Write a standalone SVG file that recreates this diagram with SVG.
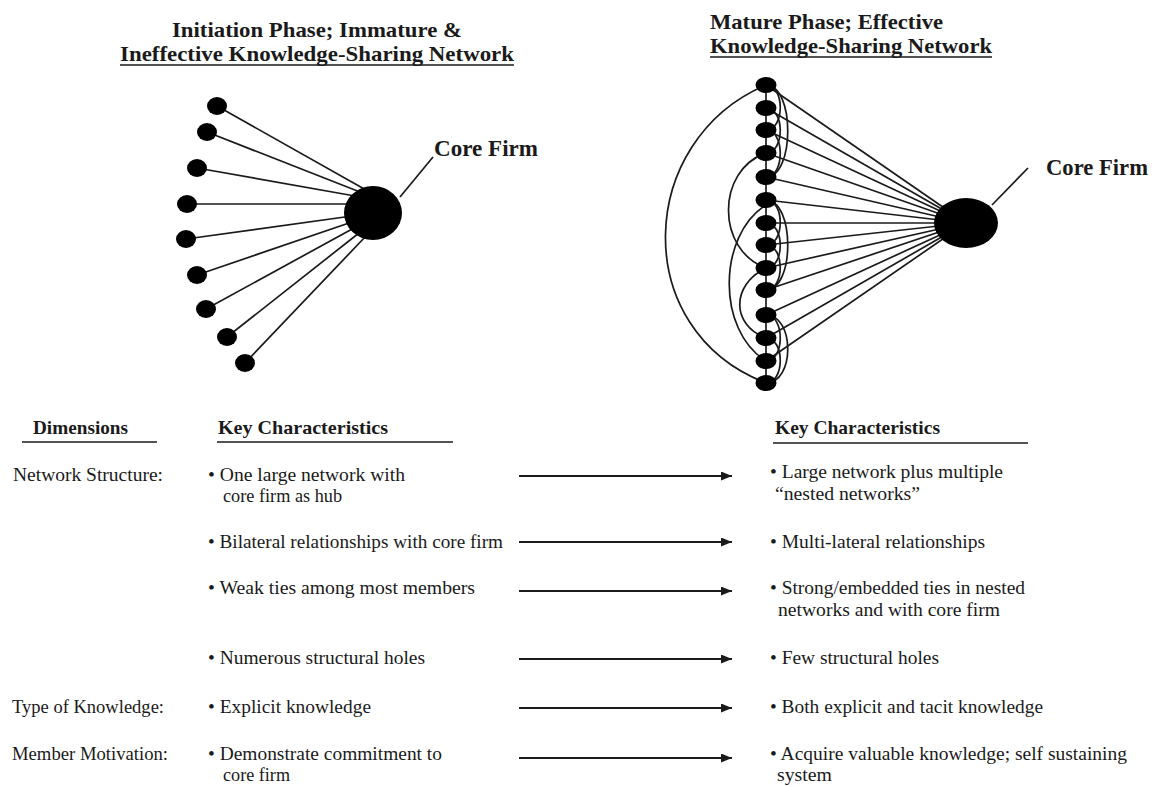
<svg xmlns="http://www.w3.org/2000/svg" width="1152" height="787" viewBox="0 0 1152 787">
<style>
  text { font-family: "Liberation Serif", "Times New Roman", serif; fill: #1a1a1a; }
  .title { font-size: 21px; font-weight: bold; }
  .core { font-size: 23px; font-weight: bold; }
  .hdr { font-size: 19.5px; font-weight: bold; }
  .body { font-size: 19px; }
  .edge { stroke: #1a1a1a; stroke-width: 1.7; fill: none; }
  .rule { stroke: #1a1a1a; stroke-width: 1.7; }
  .node { fill: #000; }
  .arrow { stroke: #1a1a1a; stroke-width: 2; marker-end: url(#ah); }
</style>
<defs>
  <marker id="ah" viewBox="0 0 11 9" refX="11" refY="4.5" markerWidth="11" markerHeight="9" markerUnits="userSpaceOnUse" orient="auto">
    <path d="M0,0 L11,4.5 L0,9 Z" fill="#1a1a1a"/>
  </marker>
</defs>
<rect width="1152" height="787" fill="#ffffff"/>

<g id="titles">
  <text class="title" x="172" y="37" textLength="290" lengthAdjust="spacingAndGlyphs">Initiation Phase; Immature &amp;</text>
  <text class="title" x="120" y="61" textLength="394" lengthAdjust="spacingAndGlyphs">Ineffective Knowledge-Sharing Network</text>
  <line class="rule" x1="120" y1="65" x2="514" y2="65"/>
  <text class="title" x="710" y="29" textLength="233" lengthAdjust="spacingAndGlyphs">Mature Phase; Effective</text>
  <text class="title" x="710" y="53" textLength="282" lengthAdjust="spacingAndGlyphs">Knowledge-Sharing Network</text>
  <line class="rule" x1="710" y1="57" x2="992" y2="57"/>
</g>

<g id="connectors">
  <!-- left network spokes -->
  <line class="edge" x1="217" y1="106" x2="366" y2="190"/>
  <line class="edge" x1="207" y1="132" x2="360" y2="192"/>
  <line class="edge" x1="197" y1="168" x2="355" y2="196"/>
  <line class="edge" x1="187" y1="204" x2="352" y2="204"/>
  <line class="edge" x1="186" y1="239" x2="352" y2="216"/>
  <line class="edge" x1="197" y1="275" x2="352" y2="222"/>
  <line class="edge" x1="206" y1="309" x2="354" y2="228"/>
  <line class="edge" x1="227" y1="337" x2="359" y2="233"/>
  <line class="edge" x1="245" y1="363" x2="366" y2="236"/>
  <line class="edge" x1="400" y1="197" x2="433" y2="157"/>

  <!-- right network spokes -->
  <line class="edge" x1="766" y1="85" x2="966" y2="223"/>
  <line class="edge" x1="766" y1="108" x2="966" y2="223"/>
  <line class="edge" x1="766" y1="130" x2="966" y2="223"/>
  <line class="edge" x1="766" y1="153" x2="966" y2="223"/>
  <line class="edge" x1="766" y1="177" x2="966" y2="223"/>
  <line class="edge" x1="766" y1="200" x2="966" y2="223"/>
  <line class="edge" x1="766" y1="223" x2="966" y2="223"/>
  <line class="edge" x1="766" y1="245" x2="966" y2="223"/>
  <line class="edge" x1="766" y1="268" x2="966" y2="223"/>
  <line class="edge" x1="766" y1="290" x2="966" y2="223"/>
  <line class="edge" x1="766" y1="315" x2="966" y2="223"/>
  <line class="edge" x1="766" y1="338" x2="966" y2="223"/>
  <line class="edge" x1="766" y1="361" x2="966" y2="223"/>
  <line class="edge" x1="992" y1="205" x2="1028" y2="168"/>

  <!-- column chain -->
  <line class="edge" x1="766" y1="85" x2="766" y2="383"/>

  <!-- right-side loops -->
  <path class="edge" d="M766,85 C785,85 785,130 766,130"/>
  <path class="edge" d="M766,108 C785,108 785,153 766,153"/>
  <path class="edge" d="M766,130 C785,130 785,177 766,177"/>
  <path class="edge" d="M766,85 C795,85 795,177 766,177"/>
  <path class="edge" d="M766,200 C785,200 785,245 766,245"/>
  <path class="edge" d="M766,223 C785,223 785,268 766,268"/>
  <path class="edge" d="M766,245 C785,245 785,290 766,290"/>
  <path class="edge" d="M766,200 C795,200 795,290 766,290"/>
  <path class="edge" d="M766,315 C785,315 785,361 766,361"/>
  <path class="edge" d="M766,338 C785,338 785,383 766,383"/>
  <path class="edge" d="M766,315 C795,315 795,383 766,383"/>

  <!-- left-side arcs -->
  <path class="edge" d="M766,85 C636,140 628,330 766,383"/>
  <path class="edge" d="M766,153 C716,170 716,250 766,268"/>
  <path class="edge" d="M766,205 C718,235 716,330 766,361"/>
  <path class="edge" d="M766,268 C731,285 731,325 766,338"/>

  <!-- transition arrows -->
  <line class="arrow" x1="519" y1="476" x2="732" y2="476"/>
  <line class="arrow" x1="519" y1="542" x2="732" y2="542"/>
  <line class="arrow" x1="519" y1="591" x2="732" y2="591"/>
  <line class="arrow" x1="519" y1="659" x2="732" y2="659"/>
  <line class="arrow" x1="519" y1="708" x2="732" y2="708"/>
  <line class="arrow" x1="519" y1="758" x2="732" y2="758"/>
</g>

<g id="left-network">
  <ellipse class="node" cx="217" cy="106" rx="10" ry="9"/>
  <ellipse class="node" cx="207" cy="132" rx="10" ry="9"/>
  <ellipse class="node" cx="197" cy="168" rx="10" ry="9"/>
  <ellipse class="node" cx="187" cy="204" rx="10" ry="9"/>
  <ellipse class="node" cx="186" cy="239" rx="10" ry="9"/>
  <ellipse class="node" cx="197" cy="275" rx="10" ry="9"/>
  <ellipse class="node" cx="206" cy="309" rx="10" ry="9"/>
  <ellipse class="node" cx="227" cy="337" rx="10" ry="9"/>
  <ellipse class="node" cx="245" cy="363" rx="10" ry="9"/>
</g>
<g id="left-core">
  <ellipse class="node" cx="373" cy="213" rx="29" ry="27"/>
  <text class="core" x="434" y="156" textLength="104" lengthAdjust="spacingAndGlyphs">Core Firm</text>
</g>

<g id="right-network">
  <ellipse class="node" cx="766" cy="85" rx="10.5" ry="8"/>
  <ellipse class="node" cx="766" cy="108" rx="10.5" ry="8"/>
  <ellipse class="node" cx="766" cy="130" rx="10.5" ry="8"/>
  <ellipse class="node" cx="766" cy="153" rx="10.5" ry="8"/>
  <ellipse class="node" cx="766" cy="177" rx="10.5" ry="8"/>
  <ellipse class="node" cx="766" cy="200" rx="10.5" ry="8"/>
  <ellipse class="node" cx="766" cy="223" rx="10.5" ry="8"/>
  <ellipse class="node" cx="766" cy="245" rx="10.5" ry="8"/>
  <ellipse class="node" cx="766" cy="268" rx="10.5" ry="8"/>
  <ellipse class="node" cx="766" cy="290" rx="10.5" ry="8"/>
  <ellipse class="node" cx="766" cy="315" rx="10.5" ry="8"/>
  <ellipse class="node" cx="766" cy="338" rx="10.5" ry="8"/>
  <ellipse class="node" cx="766" cy="361" rx="10.5" ry="8"/>
  <ellipse class="node" cx="766" cy="383" rx="10.5" ry="8"/>
</g>
<g id="right-core">
  <ellipse class="node" cx="966" cy="223" rx="32" ry="25"/>
  <text class="core" x="1046" y="175" textLength="102" lengthAdjust="spacingAndGlyphs">Core Firm</text>
</g>

<g id="table-headers">
  <text class="hdr" x="33" y="434" textLength="95" lengthAdjust="spacingAndGlyphs">Dimensions</text>
  <line class="rule" x1="22" y1="442" x2="157" y2="442"/>
  <text class="hdr" x="218" y="434" textLength="170" lengthAdjust="spacingAndGlyphs">Key Characteristics</text>
  <line class="rule" x1="217" y1="442" x2="453" y2="442"/>
  <text class="hdr" x="775" y="434" textLength="165" lengthAdjust="spacingAndGlyphs">Key Characteristics</text>
  <line class="rule" x1="773" y1="443" x2="1028" y2="443"/>
</g>

<g id="dimensions">
  <text class="body" x="13" y="481" textLength="150" lengthAdjust="spacingAndGlyphs">Network Structure:</text>
  <text class="body" x="12" y="713" textLength="152" lengthAdjust="spacingAndGlyphs">Type of Knowledge:</text>
  <text class="body" x="12" y="760" textLength="156" lengthAdjust="spacingAndGlyphs">Member Motivation:</text>
</g>

<g id="initiation-characteristics">
  <text class="body" x="208" y="481" textLength="197" lengthAdjust="spacingAndGlyphs">• One large network with</text>
  <text class="body" x="223" y="502" textLength="119" lengthAdjust="spacingAndGlyphs">core firm as hub</text>
  <text class="body" x="208" y="548" textLength="295" lengthAdjust="spacingAndGlyphs">• Bilateral relationships with core firm</text>
  <text class="body" x="208" y="594" textLength="267" lengthAdjust="spacingAndGlyphs">• Weak ties among most members</text>
  <text class="body" x="208" y="664" textLength="217" lengthAdjust="spacingAndGlyphs">• Numerous structural holes</text>
  <text class="body" x="208" y="713" textLength="163" lengthAdjust="spacingAndGlyphs">• Explicit knowledge</text>
  <text class="body" x="208" y="760" textLength="234" lengthAdjust="spacingAndGlyphs">• Demonstrate commitment to</text>
  <text class="body" x="223" y="781" textLength="67" lengthAdjust="spacingAndGlyphs">core firm</text>
</g>

<g id="mature-characteristics">
  <text class="body" x="770" y="478" textLength="233" lengthAdjust="spacingAndGlyphs">• Large network plus multiple</text>
  <text class="body" x="775" y="500" textLength="145" lengthAdjust="spacingAndGlyphs">“nested networks”</text>
  <text class="body" x="770" y="548" textLength="215" lengthAdjust="spacingAndGlyphs">• Multi-lateral relationships</text>
  <text class="body" x="770" y="594" textLength="255" lengthAdjust="spacingAndGlyphs">• Strong/embedded ties in nested</text>
  <text class="body" x="778" y="616" textLength="222" lengthAdjust="spacingAndGlyphs">networks and with core firm</text>
  <text class="body" x="770" y="664" textLength="169" lengthAdjust="spacingAndGlyphs">• Few structural holes</text>
  <text class="body" x="770" y="713" textLength="273" lengthAdjust="spacingAndGlyphs">• Both explicit and tacit knowledge</text>
  <text class="body" x="770" y="760" textLength="357" lengthAdjust="spacingAndGlyphs">• Acquire valuable knowledge; self sustaining</text>
  <text class="body" x="777" y="781" textLength="55" lengthAdjust="spacingAndGlyphs">system</text>
</g>
</svg>
